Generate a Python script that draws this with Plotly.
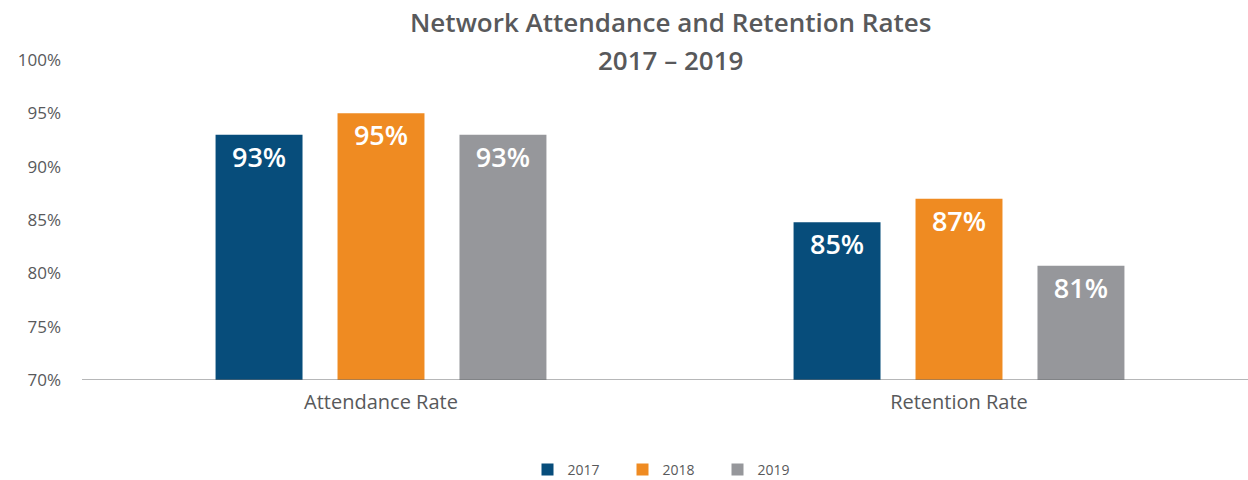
import plotly.graph_objects as go

categories = ["Attendance Rate", "Retention Rate"]
years = ["2017", "2018", "2019"]
values_2017 = [93.0, 84.8]
values_2018 = [95.0, 87.0]
values_2019 = [93.0, 80.7]
labels_2017 = ["93%", "85%"]
labels_2018 = ["95%", "87%"]
labels_2019 = ["93%", "81%"]
colors = ["#074D7B", "#EF8B22", "#96979B"]
y_ticks = [70, 75, 80, 85, 90, 95, 100]
y_tick_text = ["70%", "75%", "80%", "85%", "90%", "95%", "100%"]
title_line1 = "Network Attendance and Retention Rates"
title_line2 = "2017 – 2019"

FONT = "Open Sans"
TXT = "#58595B"
W, H = 1248, 480
ML, MR, MT, MB = 92, 0, 60, 100
plot_h = H - MT - MB

fig = go.Figure()
for year, vals, labs, col in zip(years, [values_2017, values_2018, values_2019],
                                 [labels_2017, labels_2018, labels_2019], colors):
    fig.add_trace(go.Bar(
        name=year, x=categories, y=vals,
        marker=dict(color=col, line=dict(width=0)),
        text=labs, textposition="inside", insidetextanchor="end",
        textfont=dict(family=FONT, size=27, color="white", weight=600),
        textangle=0, cliponaxis=False,
    ))

fig.update_layout(
    width=W, height=H,
    margin=dict(l=ML, r=MR, t=MT, b=MB, autoexpand=False),
    paper_bgcolor="white", plot_bgcolor="white",
    barmode="group", bargap=0.367, bargroupgap=0.287,
    font=dict(family=FONT, color=TXT),
    showlegend=True,
    legend=dict(
        orientation="h", x=0.5, xanchor="center", xref="paper",
        y=(H - MB - 470) / plot_h, yanchor="middle",
        font=dict(family=FONT, size=14, color=TXT),
        itemwidth=30, traceorder="normal",
        entrywidth=50, entrywidthmode="pixels",
    ),
    annotations=[
        dict(text=title_line1, xref="paper", yref="paper", x=0.5,
             y=(H - MB - 22) / plot_h,
             xanchor="center", yanchor="middle", showarrow=False,
             font=dict(family=FONT, size=26, color=TXT, weight=600)),
        dict(text=title_line2, xref="paper", yref="paper", x=0.5,
             y=(H - MB - 60) / plot_h,
             xanchor="center", yanchor="middle", showarrow=False,
             font=dict(family=FONT, size=26, color=TXT, weight=600)),
    ],
)

fig.update_xaxes(
    showgrid=False, showline=False, ticks="", automargin=False,
    tickfont=dict(family=FONT, size=20, color=TXT),
    ticklabelstandoff=8,
)
fig.update_yaxes(
    range=[70, 100], tickvals=y_ticks, ticktext=y_tick_text, automargin=False,
    showgrid=False, zeroline=False, showline=False, ticks="",
    tickfont=dict(family=FONT, size=17, color=TXT),
    ticklabelstandoff=30,
)
fig.add_shape(type="line", xref="paper", yref="y",
              x0=-10 / (W - ML - MR), x1=1, y0=70, y1=70,
              line=dict(color="#6D6E71", width=1))

fig.write_html(
    "out.html",
    config={"displayModeBar": False},
    post_script="document.body.style.margin='0';document.body.style.overflow='hidden';",
)
